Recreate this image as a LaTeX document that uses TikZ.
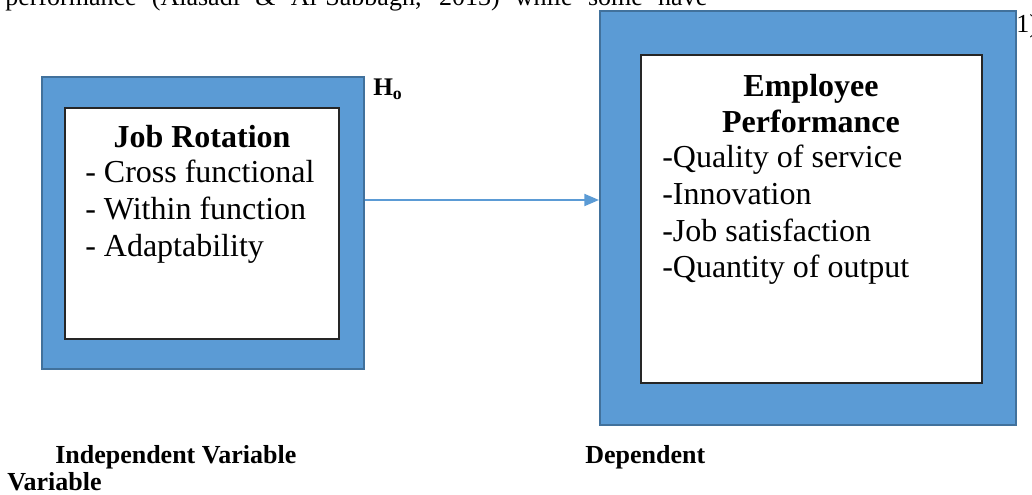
\documentclass[tikz,border=0pt]{standalone}
\usepackage{fontspec}
\setmainfont{Liberation Serif}
\usetikzlibrary{arrows.meta}
\definecolor{boxblue}{HTML}{5B9BD5}
\definecolor{rimblue}{HTML}{41719C}
\tikzset{
  outerbox/.style={rectangle,draw=rimblue,fill=boxblue,line width=1.5pt,inner sep=0pt},
  innerbox/.style={rectangle,draw=black!85,fill=white,line width=1pt,inner sep=0pt},
  boxtext/.style={inner sep=0pt,font=\fontsize{24}{28}\selectfont},
  headtext/.style={inner sep=0pt,anchor=base,font=\fontsize{24}{28}\selectfont\bfseries},
  captext/.style={inner sep=0pt,anchor=base west,font=\fontsize{19.5}{23}\selectfont\bfseries}
}
\begin{document}
\begin{tikzpicture}[x=0.75pt,y=-0.75pt]
   \clip (0,0) rectangle (1032,495);
   % running text of the page round the figure
   \node[inner sep=0pt,anchor=base west,font=\fontsize{19.5}{23}\selectfont] (txt) at (5,6)
     {\makebox[526.5pt][s]{performance (Alasadi \& Al-Sabbagh, 2013) while some have}};
   \node[inner sep=0pt,anchor=base west,font=\fontsize{19.5}{23}\selectfont] (txtr) at (1016,33) {1)};
   \begin{scope}[every node/.style={outerbox}]
    \node[minimum width=241.5pt,minimum height=219pt] (jr) at (203,223) {};
    \node[minimum width=312pt,minimum height=310.5pt] (ep) at (808,218) {};
   \end{scope}
   \begin{scope}[every node/.style={innerbox}]
    \node[minimum width=205.5pt,minimum height=173.25pt] (jrin) at (202,223.5) {};
    \node[minimum width=255.75pt,minimum height=246pt] (epin) at (811.5,219) {};
   \end{scope}
   % independent variable
   \node[headtext] (jrhead) at (202,148) {Job Rotation};
   \begin{scope}[every node/.style={boxtext,anchor=base west}]
    \node (jr1) at (85,183) {- Cross functional};
    \node (jr2) at (85,220) {- Within function};
    \node (jr3) at (85,257) {- Adaptability};
   \end{scope}
   % dependent variable
   \node[headtext] (ephead1) at (811,97) {Employee};
   \node[headtext] (ephead2) at (811,133) {Performance};
   \begin{scope}[every node/.style={boxtext,anchor=base west}]
    \node (ep1) at (662,168) {-Quality of service};
    \node (ep2) at (662,205) {-Innovation};
    \node (ep3) at (662,242) {-Job satisfaction};
    \node (ep4) at (662,278) {-Quantity of output};
   \end{scope}
   % hypothesis link
   \coordinate (ho) at (jr.east |- 0,200);
   \draw[boxblue,line width=1.5pt,-{Triangle[length=11pt,width=9pt]}] (ho) -- (ho -| ep.west);
   \node[captext,font=\fontsize{19}{23}\selectfont\bfseries] (hyp) at (373,96) {H\textsubscript{o}};
   % captions
   \node[captext] (cap1) at (55,463) {Independent Variable};
   \node[captext] (cap2) at (585,463) {Dependent};
   \node[captext] (cap3) at (7,490) {Variable};
\end{tikzpicture}
\end{document}
